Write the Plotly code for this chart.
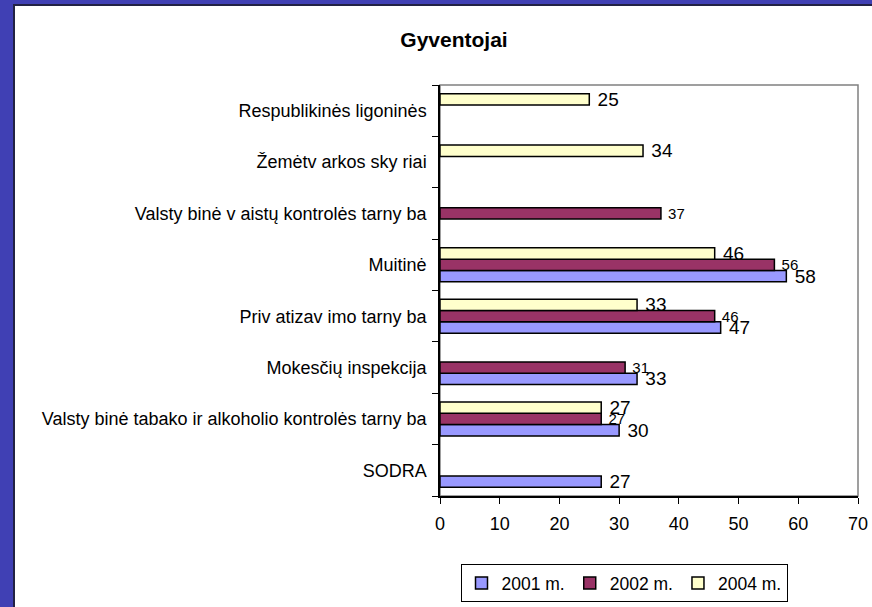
import plotly.graph_objects as go

categories = [
    "SODRA",
    "Valsty binė tabako ir alkoholio kontrolės tarny ba",
    "Mokesčių inspekcija",
    "Priv atizav imo tarny ba",
    "Muitinė",
    "Valsty binė v aistų kontrolės tarny ba",
    "Žemėtv arkos sky riai",
    "Respublikinės ligoninės",
]
series_names = ["2001 m.", "2002 m.", "2004 m."]
values_2001 = [27, 30, 33, 47, 58, None, None, None]
values_2002 = [None, 27, 31, 46, 56, 37, None, None]
values_2004 = [None, 27, None, 33, 46, None, 34, 25]
x_ticks = [0, 10, 20, 30, 40, 50, 60, 70]

colors = ["#9999FF", "#993366", "#FFFFCC"]
label_sizes = [19, 15, 19]
FONT = "Liberation Sans, Arial, sans-serif"

fig = go.Figure()
for name, vals, col, fs in zip(series_names, [values_2001, values_2002, values_2004], colors, label_sizes):
    fig.add_trace(go.Bar(
        y=categories, x=vals, name=name, orientation="h",
        marker=dict(color=col, line=dict(color="black", width=1.5)),
        text=[("" if v is None else "\u00a0" + str(v)) for v in vals],
        textposition="outside", constraintext="none", cliponaxis=False,
        textfont=dict(size=fs, color="black", family=FONT),
    ))

W, H = 872, 607
L, R, T, B = 440, 858, 85, 496
pw, ph = R - L, B - T

def px(xp):
    return (xp - L) / pw

def py(yp):
    return (B - yp) / ph

fig.update_layout(
    width=W, height=H, autosize=False,
    margin=dict(l=L, r=W - R, t=T, b=H - B, pad=0, autoexpand=False),
    paper_bgcolor="#4040b4",
    plot_bgcolor="white",
    barmode="group", bargap=0.34, bargroupgap=0,
    font=dict(family=FONT, color="black"),
    title=dict(text="<b>Gyventojai</b>", x=454 / W, xanchor="center",
               y=1 - 40 / H, yanchor="middle", font=dict(size=21, color="black", family=FONT)),
    showlegend=True,
    legend=dict(orientation="h", x=px(624), xanchor="center", y=py(583), yanchor="middle",
                bgcolor="white", bordercolor="black", borderwidth=1,
                font=dict(size=17.5, color="black", family=FONT), traceorder="normal",
                itemwidth=30),
    shapes=[
        dict(type="rect", xref="paper", yref="paper", x0=px(14), x1=px(880), y0=py(5), y1=py(615),
             fillcolor="white", line=dict(color="#222244", width=2), layer="below"),
        dict(type="rect", xref="paper", yref="paper", x0=0, x1=1, y0=0, y1=1,
             fillcolor="rgba(0,0,0,0)", line=dict(color="#808080", width=1.5), layer="below"),
    ],
)
fig.update_xaxes(range=[0, 70], tickvals=x_ticks, ticktext=[str(t) for t in x_ticks],
                 showgrid=False, zeroline=False, showline=True, linecolor="black", linewidth=1.5,
                 ticks="outside", ticklen=6, tickcolor="black", tickfont=dict(size=18, color="black"),
                 ticklabelstandoff=5, automargin=False)
fig.update_yaxes(categoryorder="array", categoryarray=categories, showgrid=False, zeroline=False,
                 showline=True, linecolor="black", linewidth=1.5, ticks="outside", ticklen=6,
                 tickcolor="black", tickson="boundaries", tickfont=dict(size=18, color="black"),
                 ticklabelstandoff=8, automargin=False)

fig.write_html("out.html", config={"displayModeBar": False},
               post_script="document.body.style.margin='0';document.body.style.overflow='hidden';")
